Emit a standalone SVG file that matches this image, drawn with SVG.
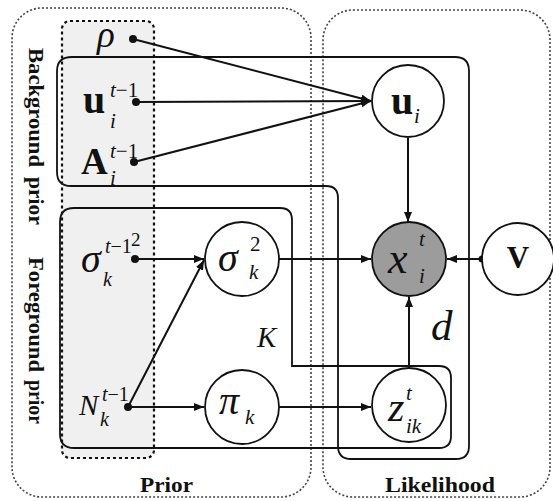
<svg xmlns="http://www.w3.org/2000/svg" width="553" height="501" viewBox="0 0 553 501">
<style>
.t{font-family:"Liberation Serif","Times New Roman",serif;fill:#111}
.it{font-style:italic}
.b{font-weight:bold}
.lab{font-family:"Liberation Serif","Times New Roman",serif;font-weight:bold;font-size:22px;fill:#111}
.node{fill:#fff;stroke:#111;stroke-width:1.8}
.obs{fill:#9c9c9c;stroke:#111;stroke-width:1.8}
.plate{fill:none;stroke:#111;stroke-width:1.8}
.region{fill:none;stroke:#444;stroke-width:1.6;stroke-dasharray:2 2}
.edge{stroke:#111;stroke-width:2;fill:none;marker-end:url(#ah)}
.dot{fill:#111}
</style>
<defs>
<marker id="ah" markerUnits="userSpaceOnUse" markerWidth="11" markerHeight="9" refX="10" refY="4" orient="auto">
<path d="M0,0 L10,4 L0,8 z" fill="#111"/>
</marker>
</defs>
<rect x="0" y="0" width="553" height="501" fill="#fff"/>

<g id="regions">
<rect x="12" y="8" width="299" height="489" rx="30" class="region"/>
<rect x="323" y="10" width="227" height="487" rx="30" class="region"/>
<rect x="62" y="21" width="92" height="437" rx="8" fill="#f0f0f0" stroke="#111" stroke-width="2.2" stroke-dasharray="3 3"/>
<text class="lab" transform="translate(29,48) rotate(90)" textLength="119" lengthAdjust="spacingAndGlyphs">Background</text>
<text class="lab" transform="translate(29,177) rotate(90)" textLength="48" lengthAdjust="spacingAndGlyphs">prior</text>
<text class="lab" transform="translate(29,257) rotate(90)" textLength="115" lengthAdjust="spacingAndGlyphs">Foreground</text>
<text class="lab" transform="translate(29,380) rotate(90)" textLength="44" lengthAdjust="spacingAndGlyphs">prior</text>
<text class="lab" x="140" y="492" textLength="53" lengthAdjust="spacingAndGlyphs">Prior</text>
<text class="lab" x="385" y="492" textLength="110" lengthAdjust="spacingAndGlyphs">Likelihood</text>
</g>

<g id="plates">
<path id="plate-d" class="plate" d="M72,57 H455 Q469,57 469,71 V446 Q469,459 456,459 H351 Q338,459 338,446 V198 Q338,186 326,186 H71 Q57,186 57,172 V71 Q57,57 72,57 Z"/>
<path id="plate-K" class="plate" d="M74,208 H280 Q292,208 292,220 V366 H439 Q451,366 451,378 V436 Q451,448 439,448 H74 Q60,448 60,434 V222 Q60,208 74,208 Z"/>
<text class="t it" x="257" y="347" font-size="29">K</text>
<text class="t it" x="431" y="340" font-size="43">d</text>
</g>

<g id="connectors">
<line class="edge" x1="133" y1="39" x2="371" y2="101"/>
<line class="edge" x1="136" y1="102" x2="371" y2="101"/>
<line class="edge" x1="134" y1="162" x2="371" y2="101"/>
<line class="edge" x1="408" y1="138" x2="408" y2="222"/>
<line class="edge" x1="135" y1="259" x2="204" y2="259"/>
<line class="edge" x1="128" y1="407" x2="204" y2="260"/>
<line class="edge" x1="128" y1="407" x2="204" y2="407"/>
<line class="edge" x1="279" y1="407" x2="371" y2="407"/>
<line class="edge" x1="279" y1="259" x2="371" y2="259"/>
<line class="edge" x1="409" y1="368" x2="409" y2="297"/>
<line class="edge" x1="482" y1="259" x2="447" y2="259"/>
<circle class="dot" cx="133" cy="39" r="4"/>
<circle class="dot" cx="136" cy="102" r="4"/>
<circle class="dot" cx="134" cy="162" r="4"/>
<circle class="dot" cx="135" cy="259" r="4"/>
<circle class="dot" cx="128" cy="407" r="4"/>
<circle class="dot" cx="482" cy="259" r="3.5"/>
</g>

<g id="rho">
<text class="t it" x="97" y="47" font-size="37">ρ</text>
</g>
<g id="u_prev">
<text class="t b" x="83" y="113" font-size="40">u</text>
<text class="t it" x="110" y="97" font-size="21">t<tspan font-style="normal">−1</tspan></text>
<text class="t it" x="110" y="128" font-size="21">i</text>
</g>
<g id="A_prev">
<text class="t b" x="81" y="174" font-size="37">A</text>
<text class="t it" x="110" y="158" font-size="21">t<tspan font-style="normal">−1</tspan></text>
<text class="t it" x="110" y="185" font-size="21">i</text>
</g>
<g id="sigma_prev">
<text class="t it" x="81" y="272" font-size="40">σ</text>
<text class="t it" x="105" y="253" font-size="20">t<tspan font-style="normal">−1</tspan></text>
<text class="t" x="131" y="246" font-size="19">2</text>
<text class="t it" x="103" y="286" font-size="20">k</text>
</g>
<g id="N_prev">
<text class="t it" x="79" y="415" font-size="29">N</text>
<text class="t it" x="102" y="401" font-size="20">t<tspan font-style="normal">−1</tspan></text>
<text class="t it" x="100" y="426" font-size="20">k</text>
</g>

<g id="u_i">
<circle class="node" cx="408" cy="101" r="36"/>
<text class="t b" x="391" y="114" font-size="40">u</text>
<text class="t it" x="414" y="123" font-size="21">i</text>
</g>
<g id="x_i">
<circle class="obs" cx="409" cy="259" r="37"/>
<text class="t it" x="388" y="273" font-size="44">x</text>
<text class="t it" x="419" y="246" font-size="21">t</text>
<text class="t it" x="419" y="283" font-size="21">i</text>
</g>
<g id="V">
<circle class="node" cx="518" cy="259" r="36"/>
<text class="t b" x="518" y="268" font-size="31" text-anchor="middle">V</text>
</g>
<g id="sigma_k">
<circle class="node" cx="242" cy="259" r="37"/>
<text class="t it" x="218" y="271" font-size="40">σ</text>
<text class="t" x="250" y="251" font-size="21">2</text>
<text class="t it" x="249" y="279" font-size="21">k</text>
</g>
<g id="pi_k">
<circle class="node" cx="242" cy="407" r="37"/>
<text class="t it" x="219" y="414" font-size="40">π</text>
<text class="t it" x="245" y="424" font-size="21">k</text>
</g>
<g id="z_ik">
<circle class="node" cx="409" cy="405" r="37"/>
<text class="t it" x="388" y="421" font-size="42">z</text>
<text class="t it" x="406" y="400" font-size="21">t</text>
<text class="t it" x="406" y="433" font-size="21">ik</text>
</g>
</svg>
